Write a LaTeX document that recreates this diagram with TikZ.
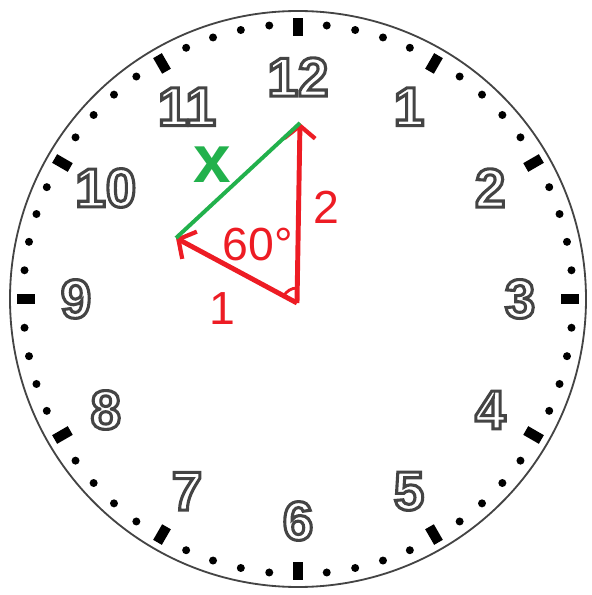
\documentclass[tikz,border=0pt]{standalone}
\usepackage{fontspec}
\setmainfont{Liberation Sans}
\usetikzlibrary{arrows.meta}
\definecolor{PaintRed}{HTML}{ED1C24}
\definecolor{PaintGreen}{HTML}{22B14C}
\definecolor{DialGray}{HTML}{444444}
\newcommand\hollow[1]{\special{pdf:literal direct 1 Tr 2.2 w}#1\special{pdf:literal direct 0 Tr}}

\begin{document}
\begin{tikzpicture}[x=0.025cm,y=0.025cm,
    hournum/.style={text=DialGray,inner sep=0pt,font=\fontsize{39}{39}\selectfont\bfseries},
    side/.style={line width=3.5pt,draw=PaintRed,-{Straight Barb[length=9pt,width=22pt,line width=3pt]}},
    sidelabel/.style={text=PaintRed,inner sep=0pt,font=\fontsize{33}{33}\selectfont}]
  \useasboundingbox (0,0) rectangle (592,595);
  \begin{scope}[shift={(298,296)}]
    % dial
    \draw[DialGray,line width=1.3pt] (0,0) circle (288);
    \foreach \a in {0,30,...,330}
      \fill[black,rotate=\a] (263,-5) rectangle (281,5);
    \foreach \h in {0,...,11}
      \foreach \k in {1,...,4}
        \fill[black] ({\h*30+\k*6}:275) circle (4);
    \foreach \n [evaluate=\n as \ang using 90-30*\n] in {1,...,12}
      \node[hournum] (h\n) at (\ang:222) {\hollow{\n}};
    % triangle
    \coordinate (O) at (-1,-4);
    \coordinate (T) at (2,176);
    \coordinate (L) at (-122,61);
    \draw[side] (O) -- (T);
    \draw[side] (O) -- (L);
    \draw[PaintRed,line width=2pt] ([shift={(90:15)}]O) arc[start angle=90,end angle=152,radius=15];
    \draw[PaintGreen,line width=2.8pt] (L) -- (T);
    \node[text=PaintGreen,inner sep=0pt,font=\fontsize{48}{48}\selectfont\bfseries] (lx) at (-86,134) {x};
    \node[sidelabel] (l2) at (28,92) {2};
    \node[sidelabel] (l60) at (-40,54) {60°};
    \node[sidelabel] (l1) at (-76,-10) {1};
  \end{scope}
\end{tikzpicture}
\end{document}
